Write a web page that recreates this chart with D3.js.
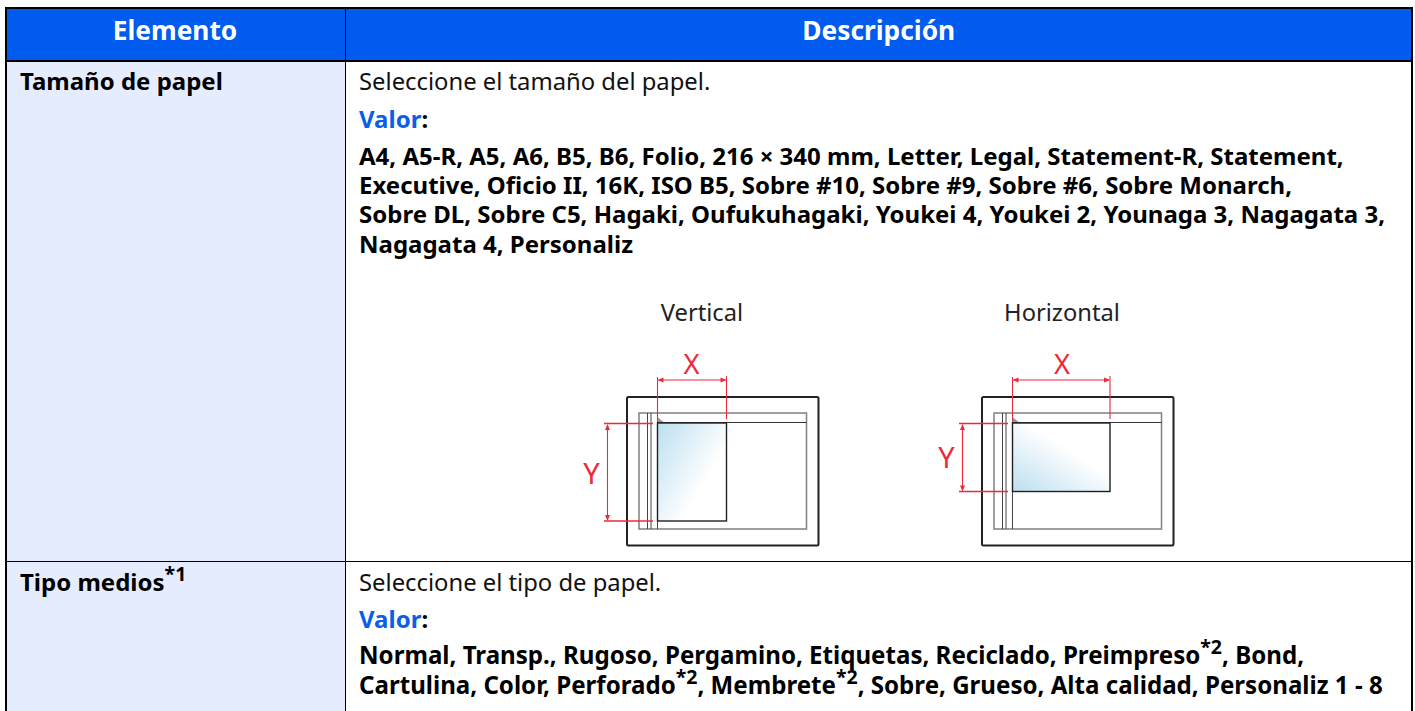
<!DOCTYPE html>
<html>
<head>
<meta charset="utf-8">
<script src="https://cdn.jsdelivr.net/npm/d3@7"></script>
<style>
  html, body { margin: 0; padding: 0; background: #fff; overflow: hidden; }
  text { font-family: "Noto Sans", sans-serif; }
</style>
</head>
<body>
<svg id="tabla" width="1415" height="711"></svg>
<script>
// Cabecera y filas de la tabla
const headers = ["Elemento", "Descripción"];
const rowNames = ["Tamaño de papel", "Tipo medios"];
const rowNotes = ["", "*1"];
const intros = ["Seleccione el tamaño del papel.", "Seleccione el tipo de papel."];
const valueLabel = "Valor";
const sizeLines = [
    "A4, A5-R, A5, A6, B5, B6, Folio, 216 × 340 mm, Letter, Legal, Statement-R, Statement,",
    "Executive, Oficio II, 16K, ISO B5, Sobre #10, Sobre #9, Sobre #6, Sobre Monarch,",
    "Sobre DL, Sobre C5, Hagaki, Oufukuhagaki, Youkei 4, Youkei 2, Younaga 3, Nagagata 3,",
    "Nagagata 4, Personaliz"
];
// Trozos de linea: [texto, superindice]
const typeLines = [
    [["Normal, Transp., Rugoso, Pergamino, Etiquetas, Reciclado, Preimpreso", "*2"], [", Bond,", ""]],
    [["Cartulina, Color, Perforado", "*2"], [", Membrete", "*2"], [", Sobre, Grueso, Alta calidad, Personaliz 1 - 8", ""]]
];
const diagramNames = ["Vertical", "Horizontal"];

const svg = d3.select("#tabla");
const blue = "#005bee";
const rowBlue = "#e5ecfd";
const red = "#ee2a38";
const bodySize = "24px";
const supSize = "19.5px";
const supRise = 10;

// Columnas y filas
const xEdges = [6, 345.5, 1412];
const yEdges = [8, 61, 561.5, 720];

// Fondos
svg.append("rect").attr("x", xEdges[0]).attr("y", yEdges[0])
    .attr("width", xEdges[2] - xEdges[0]).attr("height", yEdges[1] - yEdges[0]).attr("fill", blue);
svg.append("rect").attr("x", xEdges[0]).attr("y", yEdges[1])
    .attr("width", xEdges[1] - xEdges[0]).attr("height", yEdges[3] - yEdges[1]).attr("fill", rowBlue);

// Lineas de la tabla
const hLines = [{ y: yEdges[0], w: 2 }, { y: yEdges[1], w: 2 }, { y: yEdges[2], w: 1 }];
svg.selectAll(".hline").data(hLines).enter().append("line")
    .attr("x1", xEdges[0] - 1).attr("x2", xEdges[2] + 1)
    .attr("y1", d => d.y).attr("y2", d => d.y)
    .attr("stroke", "#000").attr("stroke-width", d => d.w);
const vLines = [{ x: xEdges[0], w: 2 }, { x: xEdges[1], w: 1 }, { x: xEdges[2], w: 2 }];
svg.selectAll(".vline").data(vLines).enter().append("line")
    .attr("x1", d => d.x).attr("x2", d => d.x)
    .attr("y1", yEdges[0]).attr("y2", yEdges[3])
    .attr("stroke", "#000").attr("stroke-width", d => d.w);

// Texto de cabecera
svg.selectAll(".head").data(headers).enter().append("text")
    .attr("x", (d, i) => (xEdges[i] + xEdges[i + 1]) / 2 - (i === 0 ? 0.7 : 0))
    .attr("y", 39.5)
    .attr("text-anchor", "middle")
    .attr("fill", "#fff").attr("font-size", "26.3px").attr("font-weight", 700)
    .text(d => d);

// Primera columna
const rowY = [90, 591];
rowNames.forEach((name, i) => {
    const t = svg.append("text").attr("x", 20).attr("y", rowY[i])
        .attr("font-size", bodySize).attr("font-weight", 700).attr("fill", "#000");
    t.append("tspan").text(name);
    if (rowNotes[i]) {
        t.append("tspan").attr("dy", -supRise).attr("font-size", supSize).text(rowNotes[i]);
    }
});

// Segunda columna: intro y "Valor:"
const textX = 359;
const valueY = [128, 628];
intros.forEach((s, i) => {
    svg.append("text").attr("x", textX).attr("y", rowY[i])
        .attr("font-size", "23.8px").attr("fill", "#111").text(s);
    const v = svg.append("text").attr("x", textX).attr("y", valueY[i])
        .attr("font-size", bodySize).attr("font-weight", 700);
    v.append("tspan").attr("fill", "#0a5eea").text(valueLabel);
    v.append("tspan").attr("fill", "#000").text(":");
});

// Lista de tamaños
svg.selectAll(".size").data(sizeLines).enter().append("text")
    .attr("x", textX)
    .attr("y", (d, i) => 165 + i * 29.2)
    .attr("font-size", bodySize).attr("font-weight", 700).attr("fill", "#000")
    .text(d => d);

// Lista de tipos, con superindices
const typeY = [664, 694];
typeLines.forEach((line, i) => {
    const t = svg.append("text").attr("x", textX).attr("y", typeY[i])
        .attr("font-size", "24.1px").attr("font-weight", 700).attr("fill", "#000");
    let raised = false;
    line.forEach(part => {
        t.append("tspan").attr("dy", raised ? supRise : 0).text(part[0]);
        raised = false;
        if (part[1]) {
            t.append("tspan").attr("dy", -supRise).attr("font-size", supSize).text(part[1]);
            raised = true;
        }
    });
});

// Degradados del papel
const defs = svg.append("defs");
const grads = [
    { id: "gradV", x1: 0, y1: 0, x2: 1, y2: 0.85 },
    { id: "gradH", x1: 0, y1: 1, x2: 0.8, y2: 0.1 }
];
grads.forEach(g => {
    const lg = defs.append("linearGradient").attr("id", g.id)
        .attr("x1", g.x1).attr("y1", g.y1).attr("x2", g.x2).attr("y2", g.y2);
    lg.append("stop").attr("offset", 0).attr("stop-color", "#bcdff0");
    lg.append("stop").attr("offset", 0.7).attr("stop-color", "#ffffff");
});

// Dibujo del cristal, en coordenadas de cada figura
const diagrams = [
    { ox: 570, title: 702, pw: 69, ph: 98, grad: "gradV", xLabel: 691.5, yLabelY: 484 },
    { ox: 925, title: 1062, pw: 97.5, ph: 68.5, grad: "gradH", xLabel: 1062, yLabelY: 467.5 }
];

diagrams.forEach((d, i) => {
    const g = svg.append("g").attr("transform", `translate(${d.ox},0)`);
    const px = 87.5, py = 423;

    svg.append("text").attr("x", d.title).attr("y", 321)
        .attr("text-anchor", "middle").attr("font-size", "23.7px").attr("fill", "#222")
        .text(diagramNames[i]);

    g.append("rect").attr("x", 57).attr("y", 397).attr("width", 191.5).attr("height", 148.5).attr("rx", 1.5)
        .attr("fill", "#fff").attr("stroke", "#222").attr("stroke-width", 2);
    g.append("rect").attr("x", 69).attr("y", 413).attr("width", 167.5).attr("height", 116)
        .attr("fill", "none").attr("stroke", "#808080").attr("stroke-width", 1.5);
    [77.5, 81, 87.5].forEach(x => {
        g.append("line").attr("x1", x).attr("x2", x).attr("y1", 413).attr("y2", 529)
            .attr("stroke", "#444").attr("stroke-width", 1);
    });
    g.append("line").attr("x1", 87.5).attr("x2", 236.5).attr("y1", 422.5).attr("y2", 422.5)
        .attr("stroke", "#333").attr("stroke-width", 1.2);
    g.append("rect").attr("x", px).attr("y", py).attr("width", d.pw).attr("height", d.ph)
        .attr("fill", `url(#${d.grad})`).attr("stroke", "#231f20").attr("stroke-width", 1.4);
    // Marca gris de la esquina
    g.append("path").attr("d", d3.line()([[px, 417], [px + 6, 422], [px, 422]])).attr("fill", "#999");

    // Cotas en rojo
    const right = px + d.pw;
    const bottom = py + d.ph;
    const seg = (x1, y1, x2, y2, w = 1.1) => g.append("line")
        .attr("x1", x1).attr("y1", y1).attr("x2", x2).attr("y2", y2)
        .attr("stroke", red).attr("stroke-width", w);
    seg(px, 377, px, 420);
    seg(right, 376, right, 419);
    seg(px + 1, 380, right - 1, 380);
    seg(34, 423.5, 83, 423.5, 1.6);
    seg(34, bottom, 83, bottom, 1.6);
    seg(37.5, 425, 37.5, bottom - 1);
    const arrow = pts => g.append("path").attr("d", d3.line()(pts)).attr("fill", red);
    arrow([[px, 380], [px + 6, 377.5], [px + 6, 382.5]]);
    arrow([[right, 380], [right - 6, 377.5], [right - 6, 382.5]]);
    arrow([[37.5, 424], [35, 430], [40, 430]]);
    arrow([[37.5, bottom], [35, bottom - 6], [40, bottom - 6]]);

    svg.append("text").attr("x", d.xLabel).attr("y", 373.5)
        .attr("text-anchor", "middle").attr("font-size", "27.5px").attr("fill", red).text("X");
    svg.append("text").attr("x", d.ox + 21.5).attr("y", d.yLabelY)
        .attr("text-anchor", "middle").attr("font-size", "29px").attr("fill", red).text("Y");
});
</script>
</body>
</html>
